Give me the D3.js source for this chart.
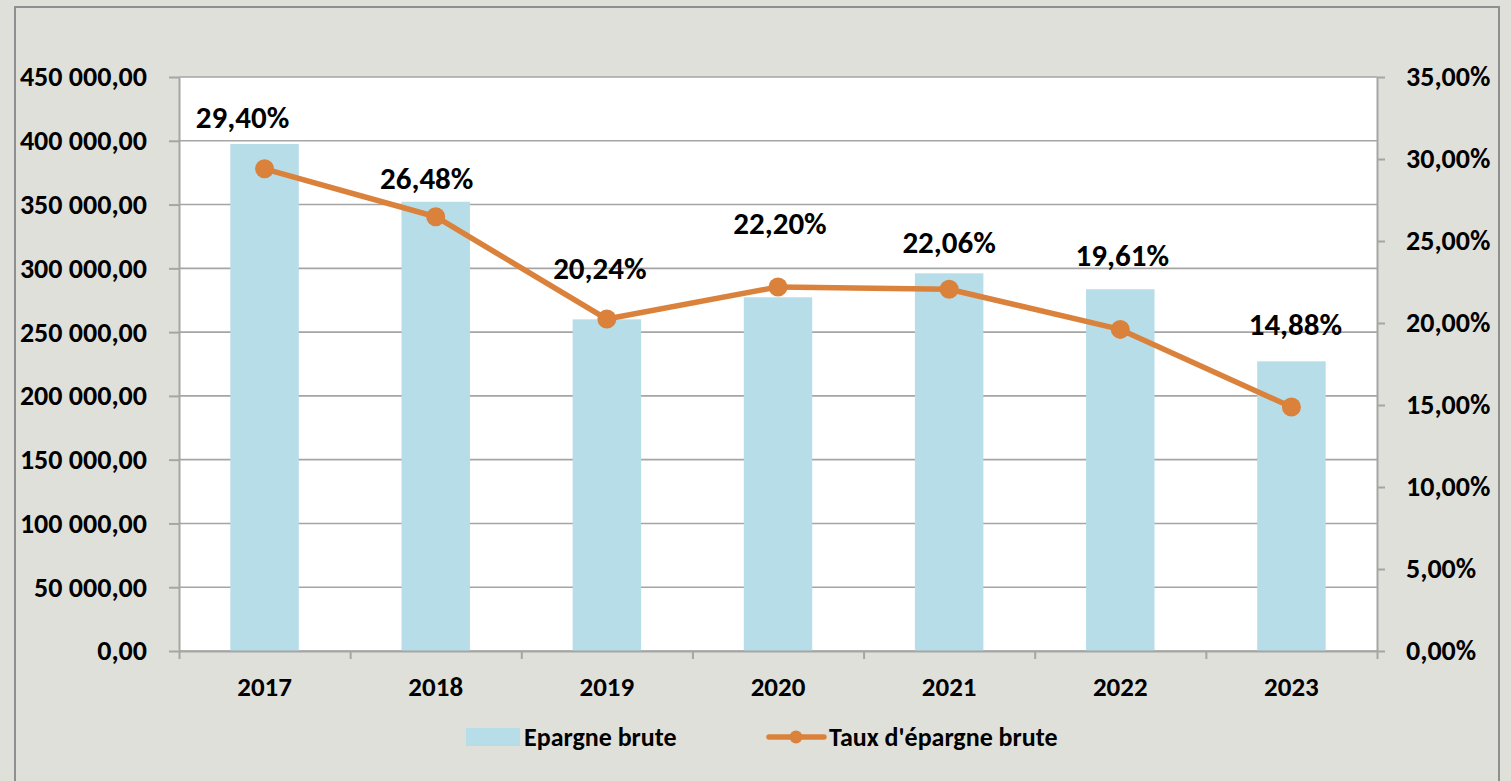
<!DOCTYPE html>
<html>
<head>
<meta charset="utf-8">
<script src="https://cdn.jsdelivr.net/npm/d3@7"></script>
<style>
  body { margin: 0; background: #e0e0db; }
  svg text { font-family: Carlito, Calibri, Lato, sans-serif; font-weight: 900; fill: #000; }
</style>
</head>
<body>
<svg id="chart" width="1511" height="781"></svg>
<script>
// data
const years = ["2017", "2018", "2019", "2020", "2021", "2022", "2023"];
const epargneBrute = [397500, 352200, 260000, 277300, 296100, 283600, 227100];
const tauxEpargne = [0.2940, 0.2648, 0.2024, 0.2220, 0.2206, 0.1961, 0.1488];
const leftTicks = [0, 50000, 100000, 150000, 200000, 250000, 300000, 350000, 400000, 450000];
const rightTicks = [0, 0.05, 0.10, 0.15, 0.20, 0.25, 0.30, 0.35];

// label nudges (px, relative to the marker), as placed in the original
const labelShift = [[-22, -52], [-9, -39], [-7, -51], [2, -64], [0, -47], [2, -74], [4, -83]];

const fr = d3.formatLocale({ decimal: ",", thousands: " ", grouping: [3], currency: ["", " €"] });
const fmtNum = fr.format(",.2f");
const fmtPct = fr.format(".2%");

const svg = d3.select("#chart");
const plot = { left: 179, right: 1377, top: 77, bottom: 651 };
const gridColor = "#a5a5a5";
const barColor = "#b7dde8";
const lineColor = "#da813b";

// outer chart frame
svg.append("rect").attr("width", 1511).attr("height", 781).attr("fill", "#e0e0db");
svg.append("rect")
    .attr("x", 15).attr("y", 7).attr("width", 1484).attr("height", 800)
    .attr("fill", "none").attr("stroke", "#8f8f8f").attr("stroke-width", 2);

// plot area
svg.append("rect")
    .attr("x", plot.left).attr("y", plot.top)
    .attr("width", plot.right - plot.left).attr("height", plot.bottom - plot.top)
    .attr("fill", "#fff");

const x = d3.scaleBand()
    .domain(years)
    .range([plot.left, plot.right])
    .paddingInner(0.6)
    .paddingOuter(0.3);

const yL = d3.scaleLinear().domain([0, 450000]).range([plot.bottom, plot.top]);
const yR = d3.scaleLinear().domain([0, 0.35]).range([plot.bottom, plot.top]);

// gridlines
svg.append("g")
    .selectAll("line")
    .data(leftTicks)
    .enter()
    .append("line")
    .attr("x1", plot.left).attr("x2", plot.right)
    .attr("y1", d => yL(d)).attr("y2", d => yL(d))
    .attr("stroke", gridColor).attr("stroke-width", 1.6);

// bars
svg.append("g")
    .selectAll("rect")
    .data(years)
    .enter()
    .append("rect")
    .attr("x", d => x(d))
    .attr("y", (d, i) => yL(epargneBrute[i]))
    .attr("width", x.bandwidth())
    .attr("height", (d, i) => plot.bottom - yL(epargneBrute[i]))
    .attr("fill", barColor);

// left axis
const axL = svg.append("g")
    .attr("transform", `translate(${plot.left},0)`)
    .call(d3.axisLeft(yL).tickValues(leftTicks).tickFormat(fmtNum).tickSize(10).tickSizeOuter(0).tickPadding(22));
axL.selectAll("text").style("font-size", "28px");

// right axis
const axR = svg.append("g")
    .attr("transform", `translate(${plot.right},0)`)
    .call(d3.axisRight(yR).tickValues(rightTicks).tickFormat(fmtPct).tickSize(8).tickSizeOuter(0).tickPadding(21));
axR.selectAll("text").style("font-size", "28px");

// bottom axis: ticks between categories, labels centred under bars
const xEdges = d3.scaleLinear().domain([0, years.length]).range([plot.left, plot.right]);
svg.append("g")
    .attr("transform", `translate(0,${plot.bottom})`)
    .call(d3.axisBottom(xEdges).ticks(years.length).tickFormat("").tickSize(8).tickSizeOuter(0));

const axB = svg.append("g")
    .attr("transform", `translate(0,${plot.bottom})`)
    .call(d3.axisBottom(x).tickSize(0).tickPadding(26));
axB.select(".domain").remove();
axB.selectAll("text").style("font-size", "27px");

svg.selectAll(".domain, .tick line").attr("stroke", gridColor).attr("stroke-width", 2);

// line series
const cx = d => x(d) + x.bandwidth() / 2;
const line = d3.line()
    .x((d, i) => cx(years[i]))
    .y(d => yR(d));

svg.append("path")
    .datum(tauxEpargne)
    .attr("d", line)
    .attr("fill", "none")
    .attr("stroke", lineColor)
    .attr("stroke-width", 5.5)
    .attr("stroke-linejoin", "round");

svg.append("g")
    .selectAll("circle")
    .data(tauxEpargne)
    .enter()
    .append("circle")
    .attr("cx", (d, i) => cx(years[i]))
    .attr("cy", d => yR(d))
    .attr("r", 9.5)
    .attr("fill", lineColor);

// data labels
svg.append("g")
    .selectAll("text")
    .data(tauxEpargne)
    .enter()
    .append("text")
    .attr("x", (d, i) => cx(years[i]) + labelShift[i][0])
    .attr("y", (d, i) => yR(d) + labelShift[i][1])
    .attr("text-anchor", "middle")
    .attr("dominant-baseline", "central")
    .style("font-size", "31px")
    .text(d => fmtPct(d));

// legend
const legend = svg.append("g");
legend.append("rect")
    .attr("x", 466).attr("y", 728).attr("width", 54).attr("height", 18)
    .attr("fill", barColor);
legend.append("text")
    .attr("x", 524).attr("y", 737)
    .attr("dominant-baseline", "central")
    .style("font-size", "26px")
    .text("Epargne brute");

legend.append("line")
    .attr("x1", 769).attr("x2", 824).attr("y1", 737).attr("y2", 737)
    .attr("stroke", lineColor).attr("stroke-width", 5.5).attr("stroke-linecap", "round");
legend.append("circle")
    .attr("cx", 796).attr("cy", 737).attr("r", 6.5)
    .attr("fill", lineColor);
legend.append("text")
    .attr("x", 829).attr("y", 737)
    .attr("dominant-baseline", "central")
    .style("font-size", "26px")
    .text("Taux d'épargne brute");
</script>
</body>
</html>
